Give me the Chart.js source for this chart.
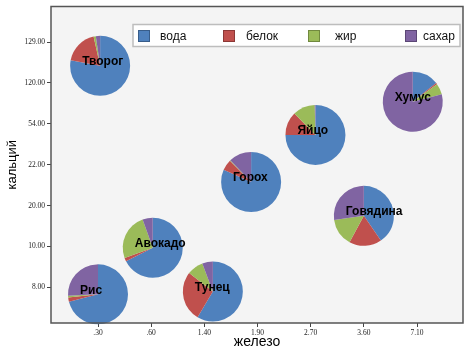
<!DOCTYPE html>
<html><head><meta charset="utf-8">
<script src="https://cdn.jsdelivr.net/npm/chart.js@4"></script>
<style>html,body{margin:0;padding:0;background:#fff}#wrap{width:468px;height:357px}</style>
</head><body><div id="wrap"><canvas id="c" width="468" height="357"></canvas></div>
<script>
// ---- data ----
const xLabels = ['.30', '.60', '1.40', '1.90', '2.70', '3.60', '7.10'];          // железо (categories)
const yLabels = ['8.00', '10.00', '20.00', '22.00', '54.00', '120.00', '129.00']; // кальций (categories)
const foods = ['Творог', 'Хумус', 'Яйцо', 'Горох', 'Говядина', 'Авокадо', 'Рис', 'Тунец'];
// pie centres in category units (0 = first category)
const ironPos    = [0.04, 5.92, 4.09, 2.88, 5.00, 1.03, 0.00, 2.16];
const calciumPos = [5.42, 4.54, 3.73, 2.58, 1.75, 0.97, -0.17, -0.10];
const seriesNames = ['вода', 'белок', 'жир', 'сахар'];
const water   = [78.0, 14.3, 75.0, 81.6, 40.4, 67.5, 71.0, 58.5];
const protein = [18.5, 0.7, 12.6, 5.9, 17.5, 2.0, 2.3, 27.0];
const fat     = [1.2, 6.0, 12.0, 0.3, 14.9, 25.0, 0.9, 8.8];
const sugar   = [2.3, 79.0, 0.4, 12.2, 27.2, 5.5, 25.8, 5.7];

// ---- styles ----
const colors = ['#4F81BD', '#C0504D', '#9BBB59', '#8064A2'];
const borders = ['#385D8A', '#8C3836', '#71893F', '#5C4776'];
const PIE_R = 30;
const series = [water, protein, fat, sugar];

const bgPlugin = {
  id: 'bg',
  beforeDraw(chart) {
    const {ctx, chartArea: a} = chart;
    ctx.save();
    ctx.fillStyle = '#fff';
    ctx.fillRect(0, 0, chart.width, chart.height);
    ctx.fillStyle = '#f4f4f4';
    ctx.fillRect(a.left, a.top, a.right - a.left, a.bottom - a.top);
    ctx.restore();
  },
  afterDraw(chart) {
    const {ctx, chartArea: a} = chart;
    ctx.save();
    ctx.strokeStyle = '#555';
    ctx.lineWidth = 1.5;
    ctx.strokeRect(a.left, a.top, a.right - a.left, a.bottom - a.top);
    ctx.restore();
  }
};

const piePlugin = {
  id: 'pies',
  afterDatasetsDraw(chart) {
    const ctx = chart.ctx;
    const meta = chart.getDatasetMeta(0);
    ctx.save();
    meta.data.forEach((pt, i) => {
      const total = series.reduce((s, arr) => s + arr[i], 0);
      let a = -Math.PI / 2;
      series.forEach((arr, k) => {
        const sweep = arr[i] / total * Math.PI * 2;
        if (sweep <= 0) return;
        ctx.beginPath();
        ctx.moveTo(pt.x, pt.y);
        ctx.arc(pt.x, pt.y, PIE_R, a, a + sweep);
        ctx.closePath();
        ctx.fillStyle = colors[k];
        ctx.fill();
        a += sweep;
      });
    });
    ctx.fillStyle = '#000';
    ctx.font = 'bold 12px "Liberation Sans", Arial, sans-serif';
    ctx.textAlign = 'left';
    ctx.textBaseline = 'middle';
    meta.data.forEach((pt, i) => {
      ctx.fillText(foods[i], pt.x - 18, pt.y - 4);
    });
    ctx.restore();
  }
};

const legendPlugin = {
  id: 'boxLegend',
  afterDraw(chart) {
    const ctx = chart.ctx;
    const a = chart.chartArea;
    const box = {x: a.left + 82, y: a.top + 18, w: 327, h: 22};
    const sq = [5, 90, 175, 272];
    const tx = [27, 113, 202, 290];
    ctx.save();
    ctx.fillStyle = '#fff';
    ctx.fillRect(box.x, box.y, box.w, box.h);
    ctx.strokeStyle = '#bdbdbd';
    ctx.lineWidth = 1.5;
    ctx.strokeRect(box.x, box.y, box.w, box.h);
    ctx.font = '12px "Liberation Sans", Arial, sans-serif';
    ctx.textBaseline = 'middle';
    ctx.textAlign = 'left';
    seriesNames.forEach((n, k) => {
      const sx = box.x + sq[k], sy = Math.round(box.y + box.h / 2 - 6);
      ctx.fillStyle = colors[k];
      ctx.fillRect(sx, sy, 11, 11);
      ctx.strokeStyle = borders[k];
      ctx.lineWidth = 1;
      ctx.strokeRect(sx + 0.5, sy + 0.5, 11, 11);
      ctx.fillStyle = '#111';
      ctx.fillText(n, box.x + tx[k], box.y + box.h / 2 + 1);
    });
    ctx.restore();
  }
};

const tickFont = {family: '"Liberation Serif", "Times New Roman", serif', size: 7.5};

new Chart(document.getElementById('c'), {
  type: 'scatter',
  data: {
    datasets: [{
      data: foods.map((f, i) => ({x: ironPos[i], y: calciumPos[i]})),
      pointRadius: 0, pointHoverRadius: 0
    }]
  },
  options: {
    responsive: false, animation: false, events: [],
    layout: {padding: {top: 3, right: 5, left: 0, bottom: 0}},
    plugins: {legend: {display: false}, tooltip: {enabled: false}},
    scales: {
      x: {
        type: 'linear', min: -0.884, max: 6.865,
        afterBuildTicks: s => { s.ticks = xLabels.map((l, i) => ({value: i})); },
        ticks: {callback: (v, i) => xLabels[i], font: tickFont, color: '#222', padding: 2, autoSkip: false, maxRotation: 0},
        grid: {drawOnChartArea: false, tickLength: 4, color: '#444'},
        border: {display: false},
        title: {display: true, text: 'железо', font: {family: '"Liberation Sans", Arial, sans-serif', size: 14}, color: '#000', padding: {top: 0, bottom: 6}},
        afterFit: s => { s.height = 34; }
      },
      y: {
        type: 'linear', min: -0.871, max: 6.871,
        afterBuildTicks: s => { s.ticks = yLabels.map((l, i) => ({value: i})); },
        ticks: {callback: (v, i) => yLabels[i], font: tickFont, color: '#222', padding: 2, autoSkip: false},
        grid: {drawOnChartArea: false, tickLength: 4, color: '#444'},
        border: {display: false},
        title: {display: true, text: 'кальций', font: {family: '"Liberation Sans", Arial, sans-serif', size: 13}, color: '#000', padding: {top: 5, bottom: 0}},
        afterFit: s => { s.width = 51; }
      }
    }
  },
  plugins: [bgPlugin, piePlugin, legendPlugin]
});
</script></body></html>
